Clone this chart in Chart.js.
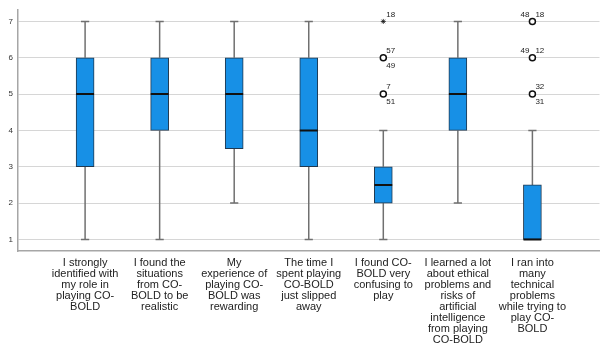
<!DOCTYPE html>
<html>
<head>
<meta charset="utf-8">
<script src="https://cdn.jsdelivr.net/npm/chart.js@4.4.1/dist/chart.umd.min.js"></script>
<style>
  html, body { margin: 0; padding: 0; background: #ffffff; }
  #wrap { width: 605px; height: 357px; }
</style>
</head>
<body>
<div id="wrap"><canvas id="c" width="605" height="357"></canvas></div>
<script>
// ---- data ----
const categories = [
  ["I strongly", "identified with", "my role in", "playing CO-", "BOLD"],
  ["I found the", "situations", "from CO-", "BOLD to be", "realistic"],
  ["My", "experience of", "playing CO-", "BOLD was", "rewarding"],
  ["The time I", "spent playing", "CO-BOLD", "just slipped", "away"],
  ["I found CO-", "BOLD very", "confusing to", "play"],
  ["I learned a lot", "about ethical", "problems and", "risks of", "artificial", "intelligence", "from playing", "CO-BOLD"],
  ["I ran into", "many", "technical", "problems", "while trying to", "play CO-", "BOLD"]
];
const whiskerLow  = [1, 1, 2,   1, 1,   2, 1];
const q1          = [3, 4, 3.5, 3, 2,   4, 1];
const median      = [5, 5, 5,   4, 2.5, 5, 1];
const q3          = [6, 6, 6,   6, 3,   6, 2.5];
const whiskerHigh = [7, 7, 7,   7, 4,   7, 4];

const outlierCategory = [4, 4, 4, 6, 6, 6];
const outlierValue    = [5, 6, 7, 5, 6, 7];
const outlierKind     = ["outlier", "outlier", "extreme", "outlier", "outlier", "outlier"];
const outlierCaseIds  = [["7", "51"], ["57", "49"], ["18"], ["32", "31"], ["49", "12"], ["48", "18"]];

const yTicks = [1, 2, 3, 4, 5, 6, 7];

// ---- presentation (not data) ----
const labelLayout = ["stacked", "stacked", "stacked", "stacked", "split", "split"];
const CAP_HALF = 0.055;
const MED_HALF = 0.12;

// build datasets from the arrays
const boxData = categories.map((_, i) => ({ x: i, y: [q1[i], q3[i]] }));

const whiskerData = [];
categories.forEach((_, i) => {
  if (whiskerHigh[i] > q3[i]) {
    whiskerData.push({ x: i, y: q3[i] }, { x: i, y: whiskerHigh[i] }, { x: i, y: null });
    whiskerData.push({ x: i - CAP_HALF, y: whiskerHigh[i] }, { x: i + CAP_HALF, y: whiskerHigh[i] }, { x: i, y: null });
  }
  if (whiskerLow[i] < q1[i]) {
    whiskerData.push({ x: i, y: q1[i] }, { x: i, y: whiskerLow[i] }, { x: i, y: null });
    whiskerData.push({ x: i - CAP_HALF, y: whiskerLow[i] }, { x: i + CAP_HALF, y: whiskerLow[i] }, { x: i, y: null });
  }
});

const medianData = [];
categories.forEach((_, i) => {
  medianData.push({ x: i - MED_HALF, y: median[i] }, { x: i + MED_HALF, y: median[i] }, { x: i, y: null });
});

const outlierData = outlierCategory.map((c, k) => ({ x: c, y: outlierValue[k] }));

const outlierLabelPlugin = {
  id: "outlierLabels",
  afterDatasetsDraw(chart) {
    const ctx = chart.ctx;
    const xs = chart.scales.x, ys = chart.scales.y;
    ctx.save();
    ctx.font = "8px 'Liberation Sans', Arial, sans-serif";
    ctx.fillStyle = "#222222";
    ctx.textBaseline = "middle";
    outlierCategory.forEach((c, k) => {
      const px = xs.getPixelForValue(c);
      const py = ys.getPixelForValue(outlierValue[k]);
      const ids = outlierCaseIds[k];
      if (labelLayout[k] === "split") {
        ctx.textAlign = "right";
        ctx.fillText(ids[0], px - 3, py - 7);
        ctx.textAlign = "left";
        ctx.fillText(ids[1], px + 3, py - 7);
      } else {
        ctx.textAlign = "left";
        ctx.fillText(ids[0], px + 3, py - 7);
        if (ids[1]) ctx.fillText(ids[1], px + 3, py + 8);
      }
    });
    ctx.restore();
  }
};

const bgPlugin = {
  id: "bg",
  beforeDraw(chart) {
    const ctx = chart.ctx;
    ctx.save();
    ctx.fillStyle = "#ffffff";
    ctx.fillRect(0, 0, chart.width, chart.height);
    ctx.restore();
  }
};

new Chart(document.getElementById("c"), {
  type: "bar",
  data: {
    datasets: [
      {
        type: "line",
        data: whiskerData,
        borderColor: "#707070",
        borderWidth: 1.5,
        pointRadius: 0,
        spanGaps: false,
        fill: false,
        order: 4
      },
      {
        type: "bar",
        data: boxData,
        backgroundColor: "#1790e6",
        borderColor: "#20384f",
        borderWidth: 1,
        borderSkipped: false,
        barThickness: 18,
        order: 3
      },
      {
        type: "line",
        data: medianData,
        borderColor: "#111111",
        borderWidth: 2,
        pointRadius: 0,
        spanGaps: false,
        fill: false,
        order: 2
      },
      {
        type: "scatter",
        data: outlierData,
        pointStyle: (c) => outlierKind[c.dataIndex] === "extreme" ? "star" : "circle",
        pointRadius: (c) => outlierKind[c.dataIndex] === "extreme" ? 2.5 : 3,
        pointBackgroundColor: "#ffffff",
        pointBorderColor: "#111111",
        pointBorderWidth: (c) => outlierKind[c.dataIndex] === "extreme" ? 0.8 : 1.5,
        showLine: false,
        order: 1
      }
    ]
  },
  options: {
    responsive: false,
    animation: false,
    events: [],
    layout: { padding: { top: 5, right: 5, left: 0, bottom: 0 } },
    plugins: { legend: { display: false }, tooltip: { enabled: false } },
    scales: {
      x: {
        type: "linear",
        min: -0.9,
        max: 6.9,
        offset: false,
        afterBuildTicks: (s) => { s.ticks = categories.map((_, i) => ({ value: i })); },
        afterFit: (s) => { s.height = 106; },
        grid: { display: false, drawTicks: false, offset: false },
        border: { display: true, color: "#a6a6a6", width: 1.5 },
        ticks: {
          autoSkip: false,
          maxRotation: 0,
          minRotation: 0,
          padding: 6,
          color: "#222222",
          font: { family: "'Liberation Sans', Arial, sans-serif", size: 11, lineHeight: 1.0 },
          callback: (v) => categories[v]
        }
      },
      y: {
        type: "linear",
        min: 0.68,
        max: 7.32,
        afterBuildTicks: (s) => { s.ticks = yTicks.map(v => ({ value: v })); },
        afterFit: (s) => { s.width = 18; },
        grid: { color: "#d6d6d6", lineWidth: 1, drawTicks: false },
        border: { display: true, color: "#a6a6a6", width: 1.5 },
        ticks: {
          padding: 5,
          color: "#333333",
          font: { family: "'Liberation Sans', Arial, sans-serif", size: 8 },
          callback: (v) => String(v)
        }
      }
    }
  },
  plugins: [bgPlugin, outlierLabelPlugin]
});
</script>
</body>
</html>
